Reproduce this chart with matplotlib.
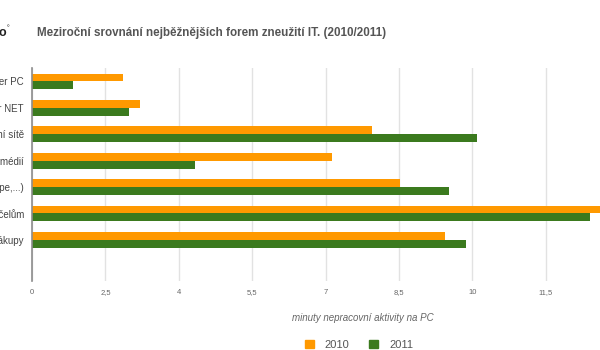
import matplotlib
matplotlib.use('Agg')
import matplotlib.pyplot as plt
from matplotlib.patches import Patch
import numpy as np

plt.rcParams['font.family'] = ['Liberation Sans', 'DejaVu Sans']

# inputs
categories = ['Hraní her PC', 'Hraní her NET', 'Sociální sítě', 'Stahování multimédií',
              'Komunikace (ICQ, Skype,...)', 'Surfování k soukromým účelům', 'Internetové nákupy']
minutes_2010 = [2.87, 3.20, 7.94, 7.14, 8.53, 12.9, 9.44]
minutes_2011 = [1.83, 2.98, 10.10, 4.34, 9.52, 12.40, 9.88]
tick_values = [1, 2.5, 4, 5.5, 7, 8.5, 10, 11.5]
tick_labels = ['0', '2,5', '4', '5,5', '7', '8,5', '10', '11,5']

orange = '#ff9900'
green = '#3b7a1e'

fig = plt.figure(figsize=(6, 3.5), dpi=100)
ax = fig.add_axes([32 / 600, 69 / 350, 662 / 600, 213 / 350])

y = np.arange(len(categories))
h = 0.30
ax.barh(y - h / 2, minutes_2010, height=h, left=0, color=orange, label='2010', zorder=3)
ax.barh(y + h / 2, minutes_2011, height=h, left=0, color=green, label='2011', zorder=3)

ax.set_xlim(1, 1 + 662 / 48.93)
ax.set_ylim(7.56, -0.51)

ax.set_xticks(tick_values)
ax.set_xticklabels(tick_labels)
ax.set_yticks(y)
ax.set_yticklabels(categories)
ax.tick_params(axis='x', length=0, pad=6, labelsize=5.5, labelcolor='#666666')
ax.tick_params(axis='y', length=0, pad=5.8, labelsize=7, labelcolor='#444444')
ax.grid(axis='x', color='#e2e2e2', linewidth=1, zorder=0)

for side in ['top', 'right', 'bottom']:
    ax.spines[side].set_visible(False)
ax.spines['left'].set_color('#8c8c8c')
ax.spines['left'].set_linewidth(1.2)
ax.spines['left'].set_zorder(4)

ax.set_xlabel('minuty nepracovní aktivity na PC', fontsize=7, style='italic',
              color='#666666', labelpad=12)

fig.text(37 / 600, 1 - 33 / 350, 'Meziroční srovnání nejběžnějších forem zneužití IT. (2010/2011)',
         fontsize=8.4, fontweight='bold', color='#555555', va='center')
fig.text(-0.002, 1 - 33 / 350, 'o', fontsize=9, fontweight='bold', color='#222222', va='center')
fig.text(0.011, 1 - 29 / 350, '°', fontsize=5, color='#222222', va='center')

handles = [Patch(color=orange, label='2010'), Patch(color=green, label='2011')]
fig.legend(handles=handles, loc='center', bbox_to_anchor=(359 / 600, 1 - 345 / 350), ncol=2,
           frameon=False, fontsize=8, handlelength=0.8, handleheight=0.8, handletextpad=1.0,
           columnspacing=1.8, labelcolor='#555555')

plt.savefig('out.png', dpi=100)
